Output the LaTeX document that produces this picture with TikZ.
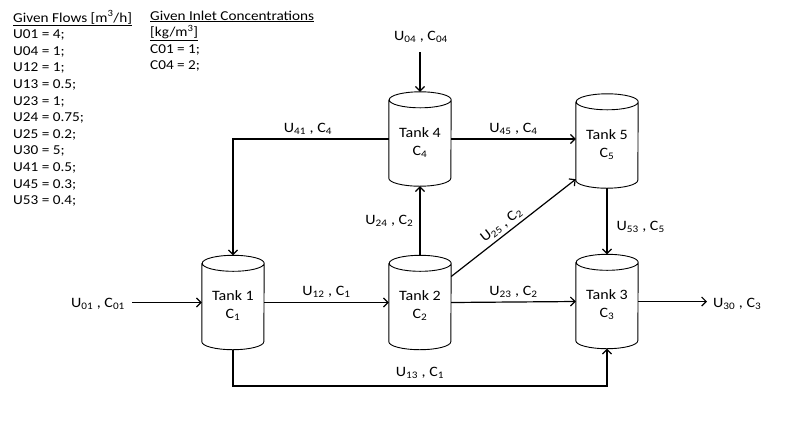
\documentclass[tikz,border=0pt]{standalone}
\usepackage{fontspec}
\setmainfont{Carlito}[FakeStretch=1.12]
\usetikzlibrary{arrows.meta,calc}
\newcommand{\sub}[1]{\textsubscript{#1}}
\newcommand{\tanktext}[2]{\raisebox{-7pt}[0pt][0pt]{\begin{tabular}{@{}c@{}}#1\\#2\end{tabular}}}
\begin{document}
\begin{tikzpicture}[x=1pt,y=1pt,
  every node/.style={font=\fontsize{13.6}{16.6}\selectfont, inner sep=0pt},
  tank/.style={minimum width=62pt, minimum height=94pt, align=center, font=\fontsize{14.3}{18}\selectfont},
  flow/.style={line width=1.2pt, -{Straight Barb[length=4.5pt,width=9pt,line width=1.2pt]}},
  lbl/.style={font=\fontsize{14.3}{15}\selectfont}]
\useasboundingbox (0,0) rectangle (801,-432);

% legend
\node[anchor=north west, align=left] (given) at (13,-10.5)
 {\underline{Given Flows [m\textsuperscript{3}/h]}\\U01 = 4;\\U04 = 1;\\U12 = 1;\\U13 = 0.5;\\U23 = 1;\\U24 = 0.75;\\U25 = 0.2;\\U30 = 5;\\U41 = 0.5;\\U45 = 0.3;\\U53 = 0.4;};
\node[anchor=north west, align=left] (conc) at (150,-10.5)
 {\underline{Given Inlet Concentrations}\\\underline{[kg/m\textsuperscript{3}]}\\C01 = 1;\\C04 = 2;};

% tanks
\node[tank] (t1) at (233,-302.5) {\tanktext{Tank 1}{C\sub{1}}};
\node[tank] (t2) at (420,-302.5) {\tanktext{Tank 2}{C\sub{2}}};
\node[tank] (t3) at (607,-301.5) {\tanktext{Tank 3}{C\sub{3}}};
\node[tank] (t4) at (420,-139) {\tanktext{Tank 4}{C\sub{4}}};
\node[tank] (t5) at (607,-141) {\tanktext{Tank 5}{C\sub{5}}};
\foreach \n in {t1,t2,t3,t4,t5}{
  \draw[line width=0.9pt] ([yshift=-8pt]\n.north west) -- ([yshift=8pt]\n.south west)
    arc[start angle=180,end angle=360,x radius=31pt,y radius=8pt]
    -- ([yshift=-8pt]\n.north east)
    arc[start angle=0,end angle=360,x radius=31pt,y radius=8pt];
}

% free ends
\coordinate (in1) at (132,-302.5);
\coordinate (in4) at (420,-52);
\coordinate (out3) at (707,-301.5);
\coordinate (low) at (233,-386);

% connectors
\node[lbl] (l01) at (98,-304) {U\sub{01} , C\sub{01}};
\draw[flow] (in1) -- (t1.west);
\draw[flow] (t1.east) -- (t2.west) node[lbl, midway, above=4pt] (l12) {U\sub{12} , C\sub{1}};
\draw[flow] (t2.east) -- (t3.west) node[lbl, midway, above=4pt] (l23) {U\sub{23} , C\sub{2}};
\draw[flow] (t3.east) -- (out3);
\node[lbl, anchor=west] (l30) at (713,-304) {U\sub{30} , C\sub{3}};
\draw[flow] (t2.north) -- (t4.south) node[lbl, pos=0.5, left=6pt] (l24) {U\sub{24} , C\sub{2}};
\draw[flow] ([yshift=26pt]t2.east) -- ([yshift=9pt]t5.south west)
  node[lbl, pos=0.45, sloped, above=3pt] (l25) {U\sub{25} , C\sub{2}};
\draw[flow] (t5.south) -- (t3.north) node[lbl, pos=0.58, right=9pt] (l53) {U\sub{53} , C\sub{5}};
\draw[flow] (t4.east) -- (t5.west |- t4.east) node[lbl, midway, above=4pt] (l45) {U\sub{45} , C\sub{4}};
\draw[flow] (in4) -- (t4.north);
\node[lbl] (l04) at (421,-37) {U\sub{04} , C\sub{04}};
\draw[flow] (t4.west) -| (t1.north);
\node[lbl] (l41) at (308,-129) {U\sub{41} , C\sub{4}};
\draw[flow] (t1.south) -- (low) -| (t3.south);
\node[lbl] (l13) at (420,-373) {U\sub{13} , C\sub{1}};
\end{tikzpicture}
\end{document}
